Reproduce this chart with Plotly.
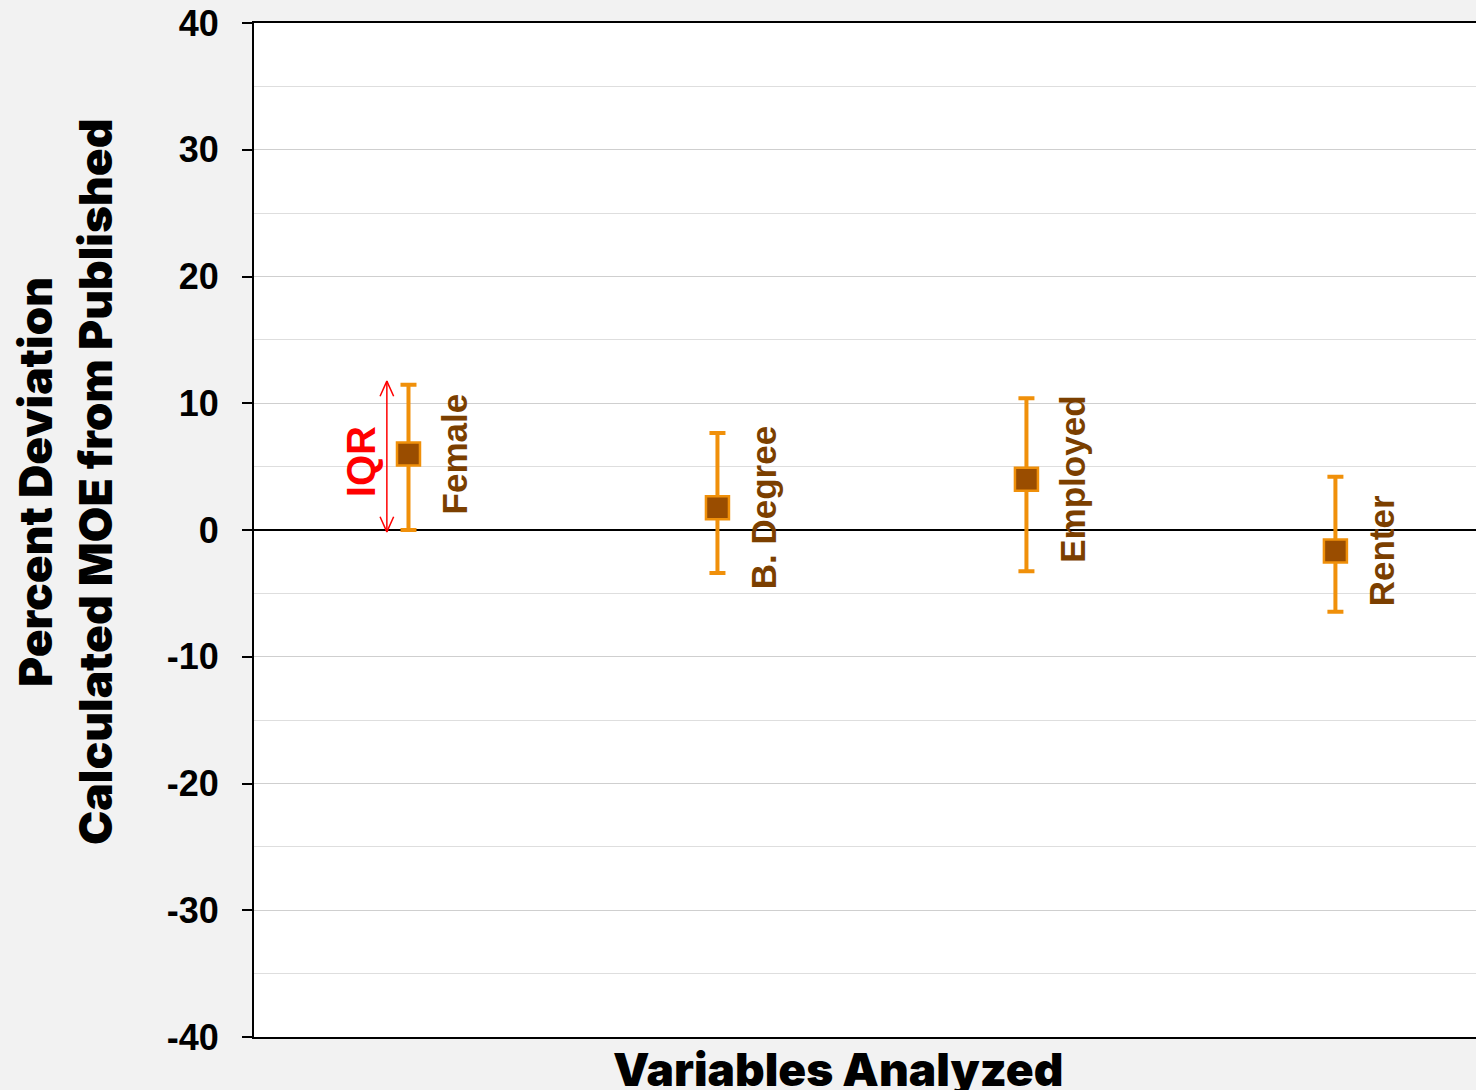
import plotly.graph_objects as go

categories = ["Female", "B. Degree", "Employed", "Renter"]
medians = [6.0, 1.75, 4.0, -1.65]
upper = [11.45, 7.65, 10.4, 4.2]
lower = [0.0, -3.4, -3.25, -6.45]

y_ticks = [40, 30, 20, 10, 0, -10, -20, -30, -40]

x = list(range(len(categories)))
err_plus = [u - m for u, m in zip(upper, medians)]
err_minus = [m - l for m, l in zip(medians, lower)]

ORANGE = "#F0900A"
BROWN = "#9A4D00"
LABEL = "#7B3F00"

fig = go.Figure()
fig.add_trace(go.Scatter(
    x=x, y=medians, mode="markers",
    marker=dict(symbol="square", size=23, color=BROWN, line=dict(color=ORANGE, width=2.5)),
    error_y=dict(type="data", symmetric=False, array=err_plus, arrayminus=err_minus,
                 color=ORANGE, thickness=4, width=8),
    showlegend=False, hoverinfo="skip",
))

# IQR arrow (double headed) next to the first category
ax_x = x[0] - 0.07
top = upper[0] + 0.3
bot = lower[0] - 0.15
hx, hy = 0.022, 1.2
fig.add_trace(go.Scatter(
    x=[ax_x, ax_x, None, ax_x - hx, ax_x, ax_x + hx, None, ax_x - hx, ax_x, ax_x + hx],
    y=[top, bot, None, top - hy, top, top - hy, None, bot + hy, bot, bot + hy],
    mode="lines", line=dict(color="#FF0000", width=1.5),
    showlegend=False, hoverinfo="skip",
))

annotations = []
for xi, m, c in zip(x, medians, categories):
    annotations.append(dict(
        x=xi, y=m, xref="x", yref="y", text=c, showarrow=False,
        textangle=-90, xshift=46, xanchor="center", yanchor="middle",
        font=dict(family="Liberation Sans, Arial", size=35, color=LABEL, weight="bold"),
    ))
annotations.append(dict(
    x=x[0] - 0.154, y=(upper[0] + lower[0]) / 2 - 0.3, xref="x", yref="y", text="<b>IQR</b>",
    showarrow=False, textangle=-90, xanchor="center", yanchor="middle",
    font=dict(family="Liberation Sans, Arial", size=40, color="#FF0000"),
))
title_font = dict(family="Arial Black, Inter, DejaVu Sans", size=46, color="black", weight=900)
annotations.append(dict(
    x=0.478, y=0, xref="paper", yref="paper", yanchor="top", yshift=-2,
    text="Variables Analyzed", showarrow=False, font=title_font,
))
annotations.append(dict(
    x=-0.18, y=0.5, xref="paper", yref="paper", xshift=1, yshift=48,
    text="Percent Deviation", showarrow=False, textangle=-90, font=title_font,
    xanchor="center", yanchor="middle",
))
annotations.append(dict(
    x=-0.18, y=0.5, xref="paper", yref="paper", xshift=61, yshift=48,
    text="Calculated MOE from Published", showarrow=False, textangle=-90, font=title_font,
    xanchor="center", yanchor="middle",
))

fig.update_layout(
    width=1476, height=1090,
    margin=dict(l=254, r=0, t=23, b=53),
    paper_bgcolor="#F2F2F2", plot_bgcolor="white",
    annotations=annotations,
)
fig.update_xaxes(
    range=[-0.5, 3.455], showgrid=False, zeroline=False, showticklabels=False,
    ticks="", showline=True, linecolor="black", linewidth=2, mirror=True,
)
fig.update_yaxes(
    range=[-40, 40], tickvals=y_ticks, ticktext=[str(v) for v in y_ticks],
    showgrid=True, gridcolor="#CFCFCF", gridwidth=1,
    minor=dict(dtick=5, showgrid=True, gridcolor="#DEDEDE", gridwidth=1),
    zeroline=True, zerolinecolor="black", zerolinewidth=2,
    showline=True, linecolor="black", linewidth=2,
    ticks="outside", ticklen=10, tickwidth=2, tickcolor="black",
    ticklabelstandoff=16,
    tickfont=dict(family="Liberation Sans, Arial", size=36, color="black", weight="bold"),
)

fig.write_html(
    "out.html",
    config={"displayModeBar": False},
    post_script="document.body.style.margin='0';document.body.style.overflow='hidden';document.body.style.background='#F2F2F2';",
)
